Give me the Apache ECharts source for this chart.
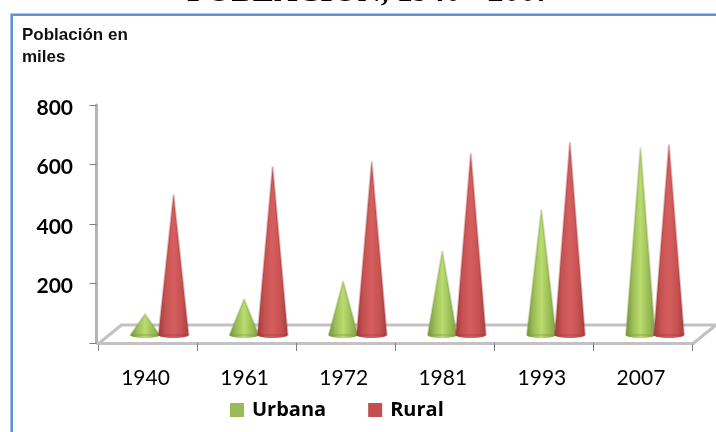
<!DOCTYPE html>
<html>
<head>
<meta charset="utf-8">
<style>
  html, body { margin: 0; padding: 0; background: #fff; overflow: hidden; }
  #chart { width: 716px; height: 432px; }
</style>
<script src="https://cdn.jsdelivr.net/npm/echarts@6/dist/echarts.min.js"></script>
</head>
<body>
<div id="chart"></div>
<script>
var years = ['1940', '1961', '1972', '1981', '1993', '2007'];
var urbana = [70, 120, 180, 281, 419, 628];
var rural = [470, 564, 581, 608, 645, 638];
var yTicks = { min: 0, max: 800, interval: 200 };

var chart = echarts.init(document.getElementById('chart'));

// the cones sit on the 3D floor, a bit above the front edge of the axis
var floorLift = 8;
var floorDepth = 19;
var floorSkew = 23.5;

function shade(edgeL, side, mid, edgeR) {
    return {
        type: 'linear', x: 0, y: 0, x2: 1, y2: 0,
        colorStops: [
            { offset: 0, color: edgeL },
            { offset: 0.25, color: side },
            { offset: 0.5, color: mid },
            { offset: 0.75, color: side },
            { offset: 1, color: edgeR }
        ]
    };
}

function coneItem(dx, halfWidth, fill, halo) {
    return function (params, api) {
        var top = api.coord([api.value(0), api.value(1)]);
        var base = api.coord([api.value(0), 0]);
        var cx = top[0] + dx;
        var by = base[1] - floorLift;
        return {
            type: 'group',
            children: [
                {
                    type: 'ellipse',
                    shape: { cx: cx, cy: by, rx: halfWidth, ry: 3 },
                    style: { fill: fill }
                },
                {
                    type: 'polygon',
                    shape: { points: [[cx - halfWidth, by], [cx, top[1] - floorLift], [cx + halfWidth, by]] },
                    style: { fill: fill, stroke: halo, lineWidth: 2, lineJoin: 'round' }
                }
            ]
        };
    };
}

function floorItem(params, api) {
    var g = params.coordSys;
    var left = g.x, right = g.x + g.width, front = g.y + g.height + 1;
    var back = front - floorDepth;
    return {
        type: 'polyline',
        shape: { points: [[left, front], [left + floorSkew, back], [right + floorSkew, back], [right, front]] },
        style: { stroke: '#c2c2c2', lineWidth: 3, fill: 'none' }
    };
}

var option = {
    animation: false,
    backgroundColor: '#fff',
    title: [
        {
            text: 'POBLACIÓN, 1940 - 2007',
            left: 187,
            top: -23.5,
            padding: 0,
            textStyle: { fontFamily: 'Liberation Serif', fontSize: 32, fontWeight: 'bold', color: '#000' }
        },
        {
            text: 'Población en\nmiles',
            left: 22,
            top: 24,
            padding: 0,
            textStyle: { fontFamily: 'Liberation Sans', fontSize: 17, fontWeight: 'bold', color: '#111', lineHeight: 22 }
        }
    ],
    legend: {
        data: ['Urbana', 'Rural'],
        left: 230,
        top: 400,
        padding: 0,
        icon: 'rect',
        itemWidth: 14,
        itemHeight: 14,
        itemGap: 42,
        textStyle: { fontFamily: 'Open Sans', fontSize: 20, fontWeight: 'bold', color: '#000', padding: [2, 0, 0, 3] }
    },
    grid: { left: 98, right: 23.5, top: 105, bottom: 89 },
    xAxis: {
        type: 'category',
        data: years,
        offset: 1,
        axisLine: { lineStyle: { color: '#c2c2c2', width: 3 } },
        axisTick: { show: true, length: 8, lineStyle: { color: '#808080', width: 1 } },
        axisLabel: { margin: 24, fontFamily: 'Lato', fontSize: 21, color: '#000', padding: [0, 4, 0, 0] }
    },
    yAxis: {
        type: 'value',
        min: yTicks.min,
        max: yTicks.max,
        interval: yTicks.interval,
        offset: 1.5,
        splitLine: { show: false },
        axisLine: { show: true, lineStyle: { color: '#b4b4b4', width: 3 } },
        axisTick: { show: true, length: 7, lineStyle: { color: '#808080', width: 1 } },
        axisLabel: {
            margin: 23.5,
            fontFamily: 'Lato',
            fontSize: 21,
            fontWeight: 'bold',
            color: '#000',
            verticalAlign: 'top',
            lineHeight: 6,
            formatter: function (v) { return v === 0 ? '' : v; }
        }
    },
    series: [
        {
            name: 'floor',
            type: 'custom',
            silent: true,
            clip: false,
            renderItem: floorItem,
            data: [[0, 0]],
            z: 1
        },
        {
            name: 'Urbana',
            type: 'custom',
            clip: false,
            itemStyle: { color: '#9bbb59' },
            renderItem: coneItem(-2.5, 14.5, shade('#6e8c3a', '#9cbd57', '#b9dc6e', '#7d9c42'), 'rgba(125,156,66,0.35)'),
            data: urbana.map(function (v, i) { return [i, v]; }),
            z: 3
        },
        {
            name: 'Rural',
            type: 'custom',
            clip: false,
            itemStyle: { color: '#c0504d' },
            renderItem: coneItem(26, 15, shade('#9a3838', '#c75252', '#d65e5e', '#a33c3c'), 'rgba(163,60,60,0.35)'),
            data: rural.map(function (v, i) { return [i, v]; }),
            z: 4
        }
    ],
    graphic: [
        {
            type: 'rect',
            shape: { x: 11.7, y: 14.7, width: 800, height: 500 },
            style: { fill: 'none', stroke: '#5f90d8', lineWidth: 2.6 },
            silent: true
        }
    ]
};

chart.setOption(option);
</script>
</body>
</html>
